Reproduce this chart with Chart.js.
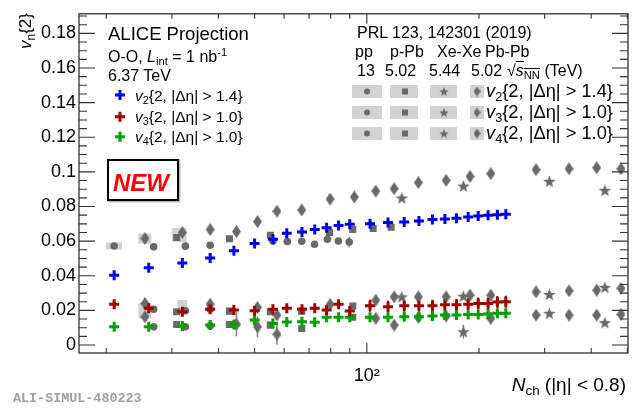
<!DOCTYPE html>
<html><head><meta charset="utf-8">
<script src="https://cdn.jsdelivr.net/npm/chart.js@4/dist/chart.umd.min.js"></script>
<style>
html,body{margin:0;padding:0;background:#fff;}
#wrap{position:relative;width:641px;height:411px;overflow:hidden;font-family:"Liberation Sans",Arial,sans-serif;color:#000;}
#c{position:absolute;left:0;top:0;}
.t{position:absolute;white-space:nowrap;line-height:1;}
sub{font-size:70%;vertical-align:-0.3em;line-height:0;}
sup{font-size:70%;vertical-align:0.55em;line-height:0;}
</style></head>
<body><div id="wrap"><canvas id="c" width="641" height="411"></canvas>
<div class="t" style="left:16.5px;top:113px;width:100px;text-align:right;transform:rotate(-90deg);transform-origin:0 0;font-size:17px;"><i>v</i><sub>n</sub>{2}</div>
<div class="t" style="right:15px;top:374.5px;font-size:19px;"><i>N</i><sub>ch</sub> (|η| &lt; 0.8)</div>
<div class="t" style="left:13px;top:392px;font-size:13.4px;font-family:'Liberation Mono',monospace;font-weight:bold;color:#a0a0a0;">ALI-SIMUL-480223</div>

<div class="t" style="left:108px;top:25.3px;font-size:18.5px;">ALICE Projection</div>
<div class="t" style="left:108px;top:48.7px;font-size:16px;">O-O, <i>L</i><sub>int</sub> = 1 nb<sup>-1</sup></div>
<div class="t" style="left:108px;top:67.5px;font-size:16px;">6.37 TeV</div>
<div class="t" style="left:135px;top:87.5px;font-size:15.5px;"><i>v</i><sub>2</sub>{2, |Δη| &gt; 1.4}</div>
<div class="t" style="left:135px;top:109px;font-size:15.5px;"><i>v</i><sub>3</sub>{2, |Δη| &gt; 1.0}</div>
<div class="t" style="left:135px;top:129px;font-size:15.5px;"><i>v</i><sub>4</sub>{2, |Δη| &gt; 1.0}</div>

<div class="t" style="left:357px;top:25.3px;font-size:16px;">PRL 123, 142301 (2019)</div>
<div class="t" style="left:355px;top:43.7px;font-size:16px;">pp</div>
<div class="t" style="left:390px;top:43.7px;font-size:16px;">p-Pb</div>
<div class="t" style="left:437px;top:43.7px;font-size:16px;">Xe-Xe</div>
<div class="t" style="left:485px;top:43.7px;font-size:16px;">Pb-Pb</div>
<div class="t" style="left:357px;top:63.3px;font-size:16px;">13</div>
<div class="t" style="left:385px;top:63.3px;font-size:16px;">5.02</div>
<div class="t" style="left:429px;top:63.3px;font-size:16px;">5.44</div>
<div class="t" style="left:471px;top:63.3px;font-size:16px;">5.02</div>
<div class="t" style="left:507px;top:63.3px;font-size:16px;">√<span style="text-decoration:overline;text-decoration-thickness:1px;"><i>s</i><sub>NN</sub></span> (TeV)</div>
<div class="t" style="left:486px;top:82.3px;font-size:18.3px;"><i>v</i><sub>2</sub>{2, |Δη| &gt; 1.4}</div>
<div class="t" style="left:486px;top:103.3px;font-size:18.3px;"><i>v</i><sub>3</sub>{2, |Δη| &gt; 1.0}</div>
<div class="t" style="left:486px;top:124.2px;font-size:18.3px;"><i>v</i><sub>4</sub>{2, |Δη| &gt; 1.0}</div>

<div style="position:absolute;left:107px;top:159px;width:68px;height:38px;border:2.5px solid #000;box-shadow:1px 1px 1.5px #999;"></div>
<div class="t" style="left:113px;top:170.5px;font-size:24px;font-weight:bold;font-style:italic;color:#ff0000;">NEW</div>
</div>
<script>
// ---- O-O projection (ALICE) ----
const ooN  = [21,26,32,38,44,50,56,61,67,72.5,78,84,90,102,114,126,138,150,162,174,187,199,211.5,224,236];
const ooV2 = [0.0403,0.0446,0.0474,0.0503,0.0544,0.0586,0.0611,0.0645,0.0653,0.0667,0.0678,0.069,0.0697,0.0701,0.0707,0.0711,0.0717,0.0725,0.0728,0.0732,0.0739,0.0745,0.0749,0.0753,0.0755];
const ooV3 = [0.0236,0.0212,0.0192,0.0207,0.0202,0.0198,0.0206,0.0212,0.0206,0.0212,0.0202,0.0235,0.0196,0.0227,0.0221,0.0227,0.0227,0.0227,0.0232,0.0232,0.0236,0.024,0.024,0.0248,0.025];
const ooV3Err = [0.001,0.001,0.001,0.001,0.001,0.001,0.001,0.001,0.001,0.001,0.001,0.001,0.001,0.0035,0.0035,0.0035,0.0035,0.0035,0.0035,0.0035,0.0035,0.0035,0.0035,0.0035,0.0035];
const ooV4 = [0.0105,0.0105,0.011,0.0115,0.0119,0.0144,0.0125,0.0133,0.0134,0.0131,0.016,0.016,0.016,0.016,0.016,0.0163,0.0163,0.0167,0.0173,0.0173,0.0177,0.0177,0.0179,0.0183,0.0183];

// ---- PRL 123, 142301 (2019) ----
const ppN   = [21,26.8,32.6,38,56,61.2,66.9,72.4,78.4,83.9,89.7];
const ppV2  = [0.0572,0.0567,0.0571,0.0576,0.0601,0.0598,0.0599,0.0582,0.0611,0.0601,0.0595];
const ppV2Err = [0,0,0,0,0,0,0,0,0,0,0.003];
const ppN34 = [26.8,32.6,38];
const ppV3  = [0.0207,0.0198,0.0207];
const ppV4  = [0.0105,0.0105,0.0112];

const pPbN   = [30.9,42.8,55.1,79.4,91.7,104,116.2];
const pPbV2  = [0.0621,0.0614,0.0634,0.065,0.0667,0.0673,0.068];
const pPbN34 = [30.9,42.8,55.1,66.9,91.7];
const pPbV3  = [0.0192,0.0196,0.0192,0.0196,0.0225];
const pPbV4  = [0.0119,0.0119,0.0115,0.0096,0.016];

const xeN   = [124.1,181.6,308.8,435.3];
const xeV2  = [0.0849,0.0918,0.0945,0.0893];
const xeV3  = [0.0278,0.0282,0.0292,0.0333];
const xeN4  = [181.6,308.8,435.3];
const xeV4  = [0.0077,0.0183,0.0129];
const xeV4Err = [0.004,0,0];

const pbN  = [25.4,32,38,44.7,50.9,57.4,66.9,79.7,92.6,105.7,118.4,137.5,163.2,189.2,215.1,284.4,348.7,413.6,480.6];
const pbV2 = [0.0615,0.065,0.0667,0.0655,0.0713,0.0773,0.078,0.0843,0.0855,0.0889,0.0903,0.0938,0.0951,0.0974,0.099,0.1013,0.1018,0.1024,0.1018];
const pbN3 = [25.4,38,50.9,57.4,79.7,105.7,118.4,137.5,163.2,189.2,215.1,284.4,348.7,413.6,480.6];
const pbV3 = [0.024,0.0236,0.0217,0.0173,0.0235,0.0259,0.0278,0.0278,0.0278,0.0288,0.0288,0.0307,0.0313,0.0317,0.0327];
const pbV3Err = [0.003,0,0,0,0,0,0,0,0,0,0,0,0,0,0];
const pbN4 = [25.4,44.7,50.9,57.4,105.7,118.4,137.5,163.2,215.1,284.4,348.7,413.6,480.6];
const pbV4 = [0.0163,0.012,0.0105,0.0062,0.0154,0.0115,0.016,0.0167,0.0154,0.0173,0.0173,0.0173,0.0177];
const pbV4Err = [0,0.007,0.006,0.006,0,0,0,0,0,0,0,0,0];

// systematic uncertainty boxes (centre N, centre v, half height in v, relative half width in N)
const sysN  = [21,25.4,31.4,25.4,32];
const sysV  = [0.0572,0.0615,0.0635,0.0197,0.023];
const sysDV = [0.002,0.0029,0.004,0.0043,0.003];
const sysDN = [0.05,0.04,0.045,0.04,0.03];

// axis ticks
const yTickVals = [0,0.02,0.04,0.06,0.08,0.1,0.12,0.14,0.16,0.18];
const xTickVals = [100];
const xMinorVals = [20,30,40,50,60,70,80,90,200,300,400,500];

const BLUE='#0000e6', RED='#a00000', GREEN='#00a000', GRAY='#696969', BOXGRAY='#d2d2d2';

function makeDiamond(w,h,col){const c=document.createElement('canvas');c.width=w;c.height=h;const g=c.getContext('2d');g.fillStyle=col;g.beginPath();g.moveTo(w/2,0);g.lineTo(w,h/2);g.lineTo(w/2,h);g.lineTo(0,h/2);g.closePath();g.fill();return c;}
function makeStar(s,col){const c=document.createElement('canvas');c.width=s;c.height=s;const g=c.getContext('2d');g.fillStyle=col;g.beginPath();const R=s/2,r=R*0.42;for(let k=0;k<10;k++){const a=-Math.PI/2+k*Math.PI/5;const rr=k%2?r:R;g.lineTo(R+rr*Math.cos(a),R+rr*Math.sin(a)+0.5);}g.closePath();g.fill();return c;}
const DIAMOND=makeDiamond(9,13,GRAY), STAR=makeStar(13,GRAY);
const DIAMOND_S=makeDiamond(7,10,GRAY), STAR_S=makeStar(10,GRAY);

function pts(xs,ys){return xs.map((x,i)=>({x:x,y:ys[i]}));}
function cross(data,col,err){return {data:data,pointStyle:'cross',radius:5,borderWidth:3,borderColor:col,backgroundColor:col,errY:err,errColor:col,errWidth:2};}
function grayDs(data,style,r,err){return {data:data,pointStyle:style,radius:r,borderWidth:0,backgroundColor:GRAY,borderColor:GRAY,errY:err,errColor:'#808080',errWidth:1.5};}

const extras={
  id:'extras',
  beforeDatasetsDraw(chart){
    const ctx=chart.ctx, x=chart.scales.x, y=chart.scales.y;
    ctx.save();
    ctx.fillStyle=BOXGRAY;
    sysN.forEach((n,i)=>{
      const x0=x.getPixelForValue(n*(1-sysDN[i])), x1=x.getPixelForValue(n*(1+sysDN[i]));
      const y0=y.getPixelForValue(sysV[i]+sysDV[i]), y1=y.getPixelForValue(sysV[i]-sysDV[i]);
      ctx.fillRect(x0,y0,x1-x0,y1-y0);
    });
    chart.data.datasets.forEach(ds=>{
      if(!ds.errY) return;
      ctx.strokeStyle=ds.errColor; ctx.lineWidth=ds.errWidth;
      ds.data.forEach((p,i)=>{
        const e=ds.errY[i]; if(!e) return;
        const px=x.getPixelForValue(p.x);
        ctx.beginPath();ctx.moveTo(px,y.getPixelForValue(p.y-e));ctx.lineTo(px,y.getPixelForValue(p.y+e));ctx.stroke();
      });
    });
    ctx.restore();
  },
  afterDraw(chart){
    const ctx=chart.ctx, x=chart.scales.x, y=chart.scales.y, a=chart.chartArea;
    ctx.save();
    ctx.strokeStyle='#333';ctx.lineWidth=1.3;
    ctx.strokeRect(a.left,a.top,a.right-a.left,a.bottom-a.top);
    ctx.lineWidth=1.1;
    for(let k=0;k<=38;k++){
      const v=k*0.005; const py=y.getPixelForValue(v);
      if(py<a.top) break;
      const L=(k%4===0)?16:8;
      ctx.beginPath();ctx.moveTo(a.left,py);ctx.lineTo(a.left+L,py);ctx.moveTo(a.right,py);ctx.lineTo(a.right-L,py);ctx.stroke();
    }
    const xt=xTickVals.map(v=>[v,10]).concat(xMinorVals.map(v=>[v,5]));
    xt.forEach(([v,L])=>{
      const px=x.getPixelForValue(v); if(px>a.right-0.5||px<a.left) return;
      ctx.beginPath();ctx.moveTo(px,a.bottom);ctx.lineTo(px,a.bottom-L);ctx.moveTo(px,a.top);ctx.lineTo(px,a.top+L);ctx.stroke();
    });
    [[95,BLUE],[116.7,RED],[136.7,GREEN]].forEach(([cy,col])=>{
      ctx.strokeStyle=col;ctx.lineWidth=3;ctx.beginPath();
      ctx.moveTo(115,cy);ctx.lineTo(125,cy);ctx.moveTo(120,cy-5);ctx.lineTo(120,cy+5);ctx.stroke();
    });
    const boxes=[[352,382],[390,418],[430,457],[470,484]];
    [91.5,112.5,133.5].forEach(cy=>{
      ctx.fillStyle=BOXGRAY;
      boxes.forEach(([b0,b1])=>ctx.fillRect(b0,cy-6.5,b1-b0,13));
      ctx.fillStyle=GRAY;
      ctx.beginPath();ctx.arc(367,cy,3,0,2*Math.PI);ctx.fill();
      ctx.fillRect(402,cy-3,6,6);
      ctx.drawImage(STAR_S,444-5,cy-5);
      ctx.drawImage(DIAMOND_S,477-3.5,cy-5);
    });
    ctx.restore();
  }
};

new Chart(document.getElementById('c'),{
  type:'scatter',
  data:{datasets:[
    cross(pts(ooN,ooV2),BLUE,null),
    cross(pts(ooN,ooV3),RED,ooV3Err),
    cross(pts(ooN,ooV4),GREEN,null),
    grayDs(pts(ppN,ppV2),'circle',3.8,ppV2Err),
    grayDs(pts(ppN34,ppV3),'circle',3.8,null),
    grayDs(pts(ppN34,ppV4),'circle',3.8,null),
    grayDs(pts(pPbN,pPbV2),'rect',5,null),
    grayDs(pts(pPbN34,pPbV3),'rect',5,null),
    grayDs(pts(pPbN34,pPbV4),'rect',5,null),
    grayDs(pts(xeN,xeV2),STAR,4,null),
    grayDs(pts(xeN,xeV3),STAR,4,null),
    grayDs(pts(xeN4,xeV4),STAR,4,xeV4Err),
    grayDs(pts(pbN,pbV2),DIAMOND,4,null),
    grayDs(pts(pbN3,pbV3),DIAMOND,4,pbV3Err),
    grayDs(pts(pbN4,pbV4),DIAMOND,4,pbV4Err)
  ]},
  options:{
    responsive:false,animation:false,devicePixelRatio:1,
    layout:{padding:{top:13,right:13,bottom:0,left:0}},
    plugins:{legend:{display:false},tooltip:{enabled:false}},
    scales:{
      x:{type:'logarithmic',min:16.9,max:502,
         grid:{display:false,drawTicks:false},border:{display:false},
         afterFit(s){s.height=58;},
         afterBuildTicks(s){s.ticks=xTickVals.map(v=>({value:v}));},
         ticks:{autoSkip:false,maxRotation:0,padding:12,color:'#000',font:{family:'Liberation Sans',size:18},callback:v=>(v===100?'10²':'')}},
      y:{type:'linear',min:-0.0046,max:0.1913,
         grid:{display:false,drawTicks:false},border:{display:false},
         afterFit(s){s.width=79;},
         afterBuildTicks(s){s.ticks=yTickVals.map(v=>({value:v}));},
         ticks:{padding:3,color:'#000',font:{family:'Liberation Sans',size:18},callback:v=>String(+(+v).toFixed(3))}}
    }
  },
  plugins:[extras]
});
</script>
</body></html>
